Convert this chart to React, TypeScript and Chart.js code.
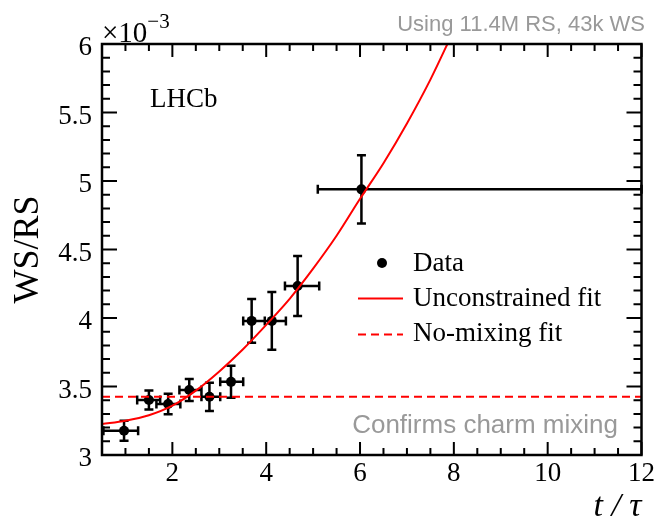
import React, { useEffect, useRef } from "react";
import { Chart, registerables } from "chart.js";

Chart.register(...registerables);

// ---- Data (WS/RS in units of 1e-3) ----
const dataT = [0.97, 1.5, 1.91, 2.36, 2.79, 3.25, 3.69, 4.12, 4.67, 6.03];
const dataTLow = [0.53, 1.25, 1.66, 2.15, 2.62, 3.02, 3.51, 3.97, 4.4, 5.1];
const dataTHigh = [1.27, 1.74, 2.17, 2.62, 3.02, 3.51, 3.97, 4.42, 5.13, 12.0];
const dataRatio = [3.177, 3.401, 3.372, 3.474, 3.425, 3.534, 3.979, 3.979, 4.234, 4.939];
const dataRatioErr = [0.073, 0.069, 0.075, 0.08, 0.103, 0.117, 0.16, 0.21, 0.219, 0.249];

const fitT = [0.5, 1, 1.5, 2, 2.5, 3, 3.5, 4, 4.5, 5, 5.5, 6, 6.5, 7, 7.5, 8];
const fitRatio = [3.226, 3.25, 3.29, 3.36, 3.47, 3.61, 3.77, 3.95, 4.14, 4.36, 4.6, 4.87, 5.13, 5.42, 5.74, 6.1];

const noMixT = [0.5, 12];
const noMixRatio = [3.425, 3.425];

const xTicks = [2, 4, 6, 8, 10, 12];
const xTickLabels = ["2", "4", "6", "8", "10", "12"];
const yTicks = [3, 3.5, 4, 4.5, 5, 5.5, 6];
const yTickLabels = ["3", "3.5", "4", "4.5", "5", "5.5", "6"];

const SERIF = "'Liberation Serif', 'Times New Roman', serif";
const SANS = "'Liberation Sans', Arial, sans-serif";

const errorBarsPlugin = {
  id: "errorBars",
  beforeDatasetsDraw(chart: any) {
    const { ctx, scales } = chart;
    const x = scales.x;
    const y = scales.y;
    ctx.save();
    ctx.strokeStyle = "#000";
    ctx.lineWidth = 2.5;
    ctx.beginPath();
    const cap = 4.5;
    for (let i = 0; i < dataT.length; i++) {
      const px = x.getPixelForValue(dataT[i]);
      const py = y.getPixelForValue(dataRatio[i]);
      const xl = x.getPixelForValue(dataTLow[i]);
      const xh = x.getPixelForValue(dataTHigh[i]);
      const yl = y.getPixelForValue(dataRatio[i] - dataRatioErr[i]);
      const yh = y.getPixelForValue(dataRatio[i] + dataRatioErr[i]);
      ctx.moveTo(xl, py);
      ctx.lineTo(xh, py);
      ctx.moveTo(xl, py - cap);
      ctx.lineTo(xl, py + cap);
      ctx.moveTo(xh, py - cap);
      ctx.lineTo(xh, py + cap);
      ctx.moveTo(px, yl);
      ctx.lineTo(px, yh);
      ctx.moveTo(px - cap, yl);
      ctx.lineTo(px + cap, yl);
      ctx.moveTo(px - cap, yh);
      ctx.lineTo(px + cap, yh);
    }
    ctx.stroke();
    ctx.restore();
  },
};

const framePlugin = {
  id: "frameTicks",
  afterDatasetsDraw(chart: any) {
    const { ctx, chartArea: a, scales } = chart;
    const x = scales.x;
    const y = scales.y;
    ctx.save();
    ctx.strokeStyle = "#000";
    ctx.lineWidth = 2;
    ctx.beginPath();
    for (let k = 1; k <= 24; k++) {
      const v = k * 0.5;
      if (v < x.min || v > x.max) continue;
      const px = x.getPixelForValue(v);
      const major = k % 4 === 0;
      const L = major ? 13 : 7;
      ctx.moveTo(px, a.bottom);
      ctx.lineTo(px, a.bottom - L);
      ctx.moveTo(px, a.top);
      ctx.lineTo(px, a.top + L);
    }
    for (let k = 30; k <= 60; k++) {
      const v = k / 10;
      const py = y.getPixelForValue(v);
      const major = k % 5 === 0;
      const L = major ? 15 : 8;
      ctx.moveTo(a.left, py);
      ctx.lineTo(a.left + L, py);
      ctx.moveTo(a.right, py);
      ctx.lineTo(a.right - L, py);
    }
    ctx.stroke();
    ctx.lineWidth = 2.5;
    ctx.strokeRect(a.left, a.top, a.right - a.left, a.bottom - a.top);
    ctx.restore();
  },
};

const textPlugin = {
  id: "annotations",
  afterDraw(chart: any) {
    const { ctx, chartArea: a } = chart;
    ctx.save();
    ctx.fillStyle = "#000";
    ctx.textAlign = "left";
    ctx.textBaseline = "alphabetic";
    // exponent
    ctx.font = `29px ${SERIF}`;
    ctx.fillText("\u00d710", a.left, 42);
    const w = ctx.measureText("\u00d710").width;
    ctx.font = `21px ${SERIF}`;
    ctx.fillText("\u22123", a.left + w, 28);
    // LHCb
    ctx.font = `27px ${SERIF}`;
    ctx.fillText("LHCb", 150, 107);
    // Legend
    ctx.beginPath();
    ctx.arc(382, 263, 5, 0, Math.PI * 2);
    ctx.fill();
    ctx.font = `27px ${SERIF}`;
    ctx.fillText("Data", 413, 271);
    ctx.fillText("Unconstrained fit", 413, 306);
    ctx.fillText("No-mixing fit", 413, 340.5);
    ctx.strokeStyle = "#ff0000";
    ctx.lineWidth = 2;
    ctx.beginPath();
    ctx.moveTo(358, 298.5);
    ctx.lineTo(403, 298.5);
    ctx.stroke();
    ctx.setLineDash([8, 5]);
    ctx.beginPath();
    ctx.moveTo(358, 334.5);
    ctx.lineTo(403, 334.5);
    ctx.stroke();
    ctx.setLineDash([]);
    // gray notes
    ctx.fillStyle = "#999999";
    ctx.textAlign = "right";
    ctx.font = `22px ${SANS}`;
    ctx.fillText("Using 11.4M RS, 43k WS", 645, 31);
    ctx.font = `26px ${SANS}`;
    ctx.fillText("Confirms charm mixing", 618, 433);
    ctx.restore();
  },
};

export default function App() {
  const canvasRef = useRef<HTMLCanvasElement | null>(null);

  useEffect(() => {
    const canvas = canvasRef.current;
    if (!canvas) return;
    const chart = new Chart(canvas, {
      type: "scatter",
      data: {
        datasets: [
          {
            type: "line",
            label: "Unconstrained fit",
            data: fitT.map((t, i) => ({ x: t, y: fitRatio[i] })),
            borderColor: "#ff0000",
            borderWidth: 2,
            pointRadius: 0,
            cubicInterpolationMode: "monotone",
            fill: false,
            order: 0,
          },
          {
            type: "line",
            label: "No-mixing fit",
            data: noMixT.map((t, i) => ({ x: t, y: noMixRatio[i] })),
            borderColor: "#ff0000",
            borderWidth: 2,
            borderDash: [8, 5],
            pointRadius: 0,
            fill: false,
            order: 0,
          },
          {
            type: "scatter",
            label: "Data",
            data: dataT.map((t, i) => ({ x: t, y: dataRatio[i] })),
            backgroundColor: "#000",
            borderColor: "#000",
            pointRadius: 5,
            pointBorderWidth: 0,
            order: 1,
          },
        ],
      } as any,
      options: {
        animation: false,
        responsive: false,
        maintainAspectRatio: false,
        layout: { padding: { top: 44, right: 15, left: 0, bottom: 0 } },
        plugins: {
          legend: { display: false },
          tooltip: { enabled: false },
        },
        scales: {
          x: {
            type: "linear",
            position: "bottom",
            min: 0.5,
            max: 12,
            afterBuildTicks: (s: any) => {
              s.ticks = xTicks.map((v) => ({ value: v }));
            },
            afterFit: (s: any) => {
              s.height = 72;
            },
            grid: { display: false, drawTicks: false },
            border: { display: false },
            ticks: {
              color: "#000",
              font: { family: SERIF, size: 27 },
              padding: 3,
              maxRotation: 0,
              autoSkip: false,
              callback: (v: any) => {
                const i = xTicks.indexOf(Number(v));
                return i >= 0 ? xTickLabels[i] : "";
              },
            },
            title: {
              display: true,
              text: "t / \u03c4",
              align: "end",
              color: "#000",
              font: { family: SERIF, size: 34, style: "italic" },
              padding: { top: 0, bottom: 0 },
            },
          },
          y: {
            type: "linear",
            min: 3,
            max: 6,
            afterBuildTicks: (s: any) => {
              s.ticks = yTicks.map((v) => ({ value: v }));
            },
            afterFit: (s: any) => {
              s.width = 102;
            },
            grid: { display: false, drawTicks: false },
            border: { display: false },
            ticks: {
              color: "#000",
              font: { family: SERIF, size: 27 },
              padding: 10,
              labelOffset: 4,
              autoSkip: false,
              callback: (v: any) => {
                const i = yTicks.indexOf(Number(v));
                return i >= 0 ? yTickLabels[i] : "";
              },
            },
            title: {
              display: true,
              text: "WS/RS",
              color: "#000",
              font: { family: SERIF, size: 36 },
              padding: { top: 7, bottom: 0 },
            },
          },
        },
      } as any,
      plugins: [errorBarsPlugin, framePlugin, textPlugin],
    });
    return () => chart.destroy();
  }, []);

  return (
    <div style={{ position: "fixed", left: 0, top: 0, width: 658, height: 527, background: "#fff" }}>
      <canvas ref={canvasRef} width={658} height={527} style={{ display: "block" }} />
    </div>
  );
}
